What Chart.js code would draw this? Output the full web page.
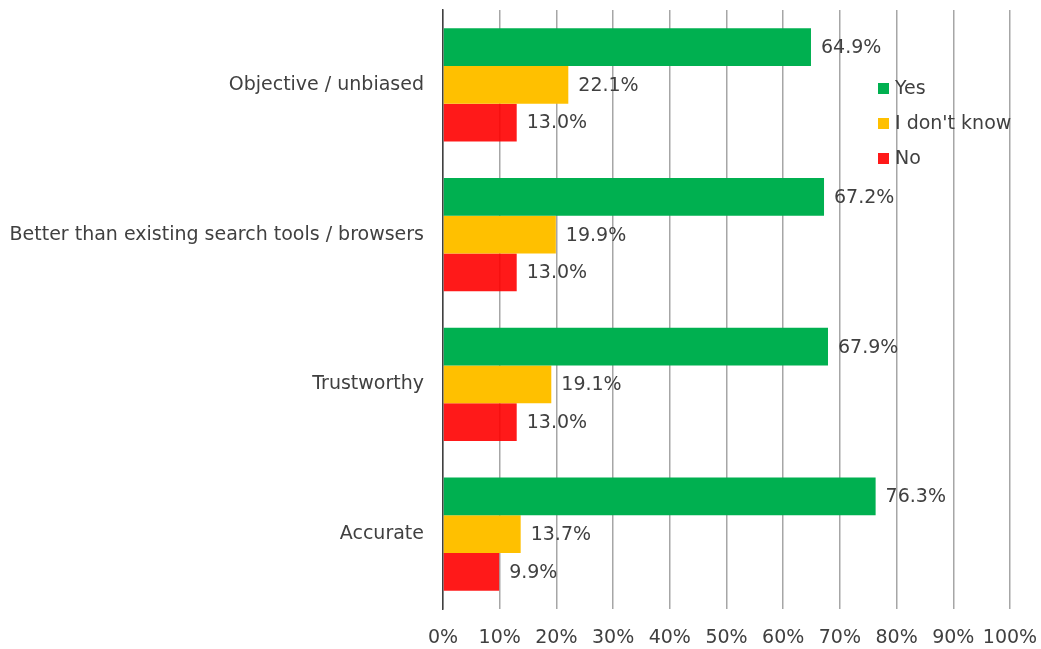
<!DOCTYPE html>
<html>
<head>
<meta charset="utf-8">
<script src="https://cdn.jsdelivr.net/npm/chart.js@4"></script>
<style>
  html, body { margin: 0; padding: 0; background: #fff; }
  #wrap { width: 1041px; height: 649px; }
</style>
</head>
<body>
<div id="wrap"><canvas id="chart" width="1041" height="649"></canvas></div>
<script>
const categories = ["Objective / unbiased", "Better than existing search tools / browsers", "Trustworthy", "Accurate"];
const yesValues = [64.9, 67.2, 67.9, 76.3];
const dontKnowValues = [22.1, 19.9, 19.1, 13.7];
const noValues = [13.0, 13.0, 13.0, 9.9];
const seriesNames = ["Yes", "I don't know", "No"];
const xTicks = [0, 10, 20, 30, 40, 50, 60, 70, 80, 90, 100];

const textColor = "#404040";
const fontFamily = "Tahoma, 'DejaVu Sans', sans-serif";

// value labels to the right of every bar
const barLabels = {
    id: "barLabels",
    afterDatasetsDraw(chart) {
        const ctx = chart.ctx;
        ctx.save();
        ctx.font = "19px " + fontFamily;
        ctx.fillStyle = textColor;
        ctx.textAlign = "left";
        ctx.textBaseline = "middle";
        chart.data.datasets.forEach((ds, i) => {
            chart.getDatasetMeta(i).data.forEach((bar, j) => {
                ctx.fillText(ds.data[j].toFixed(1) + "%", bar.x + 10, bar.y + 1);
            });
        });
        ctx.restore();
    }
};

// legend sitting inside the plot, right side
const insideLegend = {
    id: "insideLegend",
    afterDraw(chart) {
        const ctx = chart.ctx;
        const x = 878, y0 = 88, step = 35;
        ctx.save();
        ctx.font = "19px " + fontFamily;
        ctx.textBaseline = "middle";
        chart.data.datasets.forEach((ds, i) => {
            const y = y0 + i * step;
            ctx.fillStyle = ds.backgroundColor;
            ctx.fillRect(x, y - 5, 11, 11);
            ctx.fillStyle = textColor;
            ctx.fillText(ds.label, x + 17, y + 1);
        });
        ctx.restore();
    }
};

new Chart(document.getElementById("chart"), {
    type: "bar",
    data: {
        labels: categories,
        datasets: [
            { label: seriesNames[0], data: yesValues, backgroundColor: "#00B050" },
            { label: seriesNames[1], data: dontKnowValues, backgroundColor: "#FFC000" },
            { label: seriesNames[2], data: noValues, backgroundColor: "rgba(255,0,0,0.9)" }
        ]
    },
    options: {
        indexAxis: "y",
        responsive: false,
        animation: false,
        layout: { padding: { top: 10, right: 31, left: 0, bottom: 0 } },
        datasets: { bar: { barPercentage: 1, categoryPercentage: 0.755 } },
        plugins: {
            legend: { display: false },
            tooltip: { enabled: false }
        },
        scales: {
            x: {
                min: 0,
                max: 100,
                afterBuildTicks: (scale) => { scale.ticks = xTicks.map(v => ({ value: v })); },
                afterFit: (scale) => {
                    scale.height = 40;
                    scale.paddingLeft = 0;
                    scale.paddingRight = 0;
                },
                grid: { color: "#a6a6a6", lineWidth: 1.5, drawTicks: false },
                border: { display: false },
                ticks: {
                    color: textColor,
                    font: { size: 19, family: fontFamily },
                    padding: 18,
                    maxRotation: 0,
                    minRotation: 0,
                    autoSkip: false,
                    callback: (v) => v + "%"
                }
            },
            y: {
                afterFit: (scale) => {
                    scale.width = 443;
                    scale.paddingTop = 0;
                    scale.paddingBottom = 0;
                },
                grid: { display: false, drawTicks: false },
                border: { color: textColor, width: 1.5 },
                ticks: {
                    color: textColor,
                    font: { size: 19, family: fontFamily },
                    padding: 19
                }
            }
        }
    },
    plugins: [barLabels, insideLegend]
});
</script>
</body>
</html>
